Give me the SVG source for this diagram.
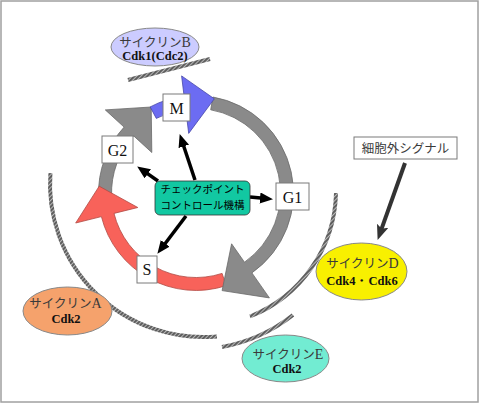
<svg xmlns="http://www.w3.org/2000/svg" width="480" height="404" viewBox="0 0 480 404">
<style>
.jp{font-family:"Noto Sans CJK JP","Noto Sans",sans-serif;}
.lat{font-family:"Liberation Serif","Times New Roman",serif;font-size:14px;}
.box{fill:#ffffff;stroke:#7a7a7a;stroke-width:1;}
.lbl{font-family:"Liberation Serif",serif;font-size:16px;fill:#111;text-anchor:middle;}
.kata{font-family:"Noto Sans CJK JP",sans-serif;font-size:12.5px;fill:#3a3a3a;text-anchor:middle;}
.cdk{font-family:"Liberation Serif","Times New Roman",serif;font-weight:bold;font-size:12.5px;fill:#111;text-anchor:middle;}
.hatch{fill:none;stroke:url(#hp);stroke-width:4;}
.cp{stroke:#000;stroke-width:3.5;fill:none;marker-end:url(#ah);}
</style>
<defs>
<pattern id="hp" patternUnits="userSpaceOnUse" width="3" height="3" patternTransform="rotate(45)">
<rect width="3" height="3" fill="#5e5e5e"/>
<rect width="1" height="3" fill="#b8b8b8"/>
</pattern>
<marker id="ah" markerUnits="userSpaceOnUse" markerWidth="14" markerHeight="12" refX="6" refY="5.5" orient="auto">
<path d="M0,0 L13,5.5 L0,11 Z" fill="#000"/>
</marker>
<marker id="ah2" markerUnits="userSpaceOnUse" markerWidth="16" markerHeight="14" refX="7" refY="6" orient="auto">
<path d="M0,0 L15,6 L0,12 L3,6 Z" fill="#333"/>
</marker>
</defs>
<rect x="1" y="1" width="477" height="401" fill="#ffffff" stroke="#a0a0a0" stroke-width="1.5"/>

<g id="decor">
<path class="hatch" d="M128,80 L210,59"/>
<path class="hatch" d="M50.4,173.1 A153,153 0 0 0 216.9,336.4"/>
<path class="hatch" d="M336,193 A136,136 0 0 1 249.9,316.5"/>
<path class="hatch" d="M222,347 A162,162 0 0 0 293,315"/>
</g>

<g id="cycle">
<path id="arc-g2" d="M98.6,196.4 A97.5,97.5 0 0 1 124.1,127.1 L105.3,109.9 L151.2,107.0 L151.8,152.5 L133.7,135.9 A84.5,84.5 0 0 0 111.6,196.0 Z" fill="#8a8a8a" stroke="#6a6a6a" stroke-width="0.8"/>
<path id="arc-s" d="M226.1,285.7 A97.5,97.5 0 0 1 101.4,216.6 L75.7,223.0 L99.2,186.2 L137.8,207.5 L114.0,213.4 A84.5,84.5 0 0 0 222.1,273.4 Z" fill="#f8625a" stroke="#b04a44" stroke-width="0.8"/>
<path id="arc-g1" d="M212.9,97.0 A97.5,97.5 0 0 1 251.9,272.9 L269.4,297.9 L222.1,290.6 L231.6,243.8 L244.5,262.2 A84.5,84.5 0 0 0 210.7,109.8 Z" fill="#8a8a8a" stroke="#6a6a6a" stroke-width="0.8"/>
<path id="arc-m" d="M150.2,106.9 A97.5,97.5 0 0 1 184.1,96.2 L181.6,75.9 L214.3,98.8 L188.7,133.4 L185.7,109.1 A84.5,84.5 0 0 0 156.3,118.4 Z" fill="#6c6cf2" stroke="#4848a8" stroke-width="0.8"/>
</g>

<g id="connectors">
<path class="cp" d="M195,180 L181.9,140.7"/>
<path class="cp" d="M158,181 L142.9,170.4"/>
<path class="cp" d="M250,197 L266,198.5"/>
<path class="cp" d="M186,216 L161.6,248.2"/>
<path d="M405,163 L380.3,232.4" stroke="#333" stroke-width="4" fill="none" marker-end="url(#ah2)"/>
</g>

<g id="node-M"><rect class="box" x="163" y="94" width="27" height="27"/><text class="lbl" x="176.5" y="113.5">M</text></g>
<g id="node-G2"><rect class="box" x="102" y="136" width="31" height="27"/><text class="lbl" x="117.5" y="155.5">G2</text></g>
<g id="node-G1"><rect class="box" x="276" y="183" width="33" height="27"/><text class="lbl" x="292.5" y="202.5">G1</text></g>
<g id="node-S"><rect class="box" x="137" y="256" width="20" height="27"/><text class="lbl" x="147" y="275">S</text></g>

<g id="node-checkpoint">
<rect x="155" y="181" width="95" height="34" rx="5" fill="#12c8a2" stroke="#333" stroke-width="0.8"/>
<text class="jp" x="202.5" y="192.5" font-size="10.5" fill="#000" text-anchor="middle">チェックポイント</text>
<text class="jp" x="202.5" y="208.5" font-size="10.5" fill="#000" text-anchor="middle">コントロール機構</text>
</g>

<g id="node-signal">
<rect x="354" y="137" width="103" height="22" fill="#fff" stroke="#7a7a7a" stroke-width="1"/>
<text class="kata" x="405.5" y="152.5" font-size="13">細胞外シグナル</text>
</g>

<g id="node-cyclinB">
<ellipse cx="155" cy="47" rx="44" ry="19" fill="#ccccff" stroke="#888" stroke-width="1"/>
<text class="kata" x="155" y="46.5">サイクリン<tspan class="lat">B</tspan></text>
<text class="cdk" x="155" y="60">Cdk1(Cdc2)</text>
</g>

<g id="node-cyclinA">
<ellipse cx="67.5" cy="311" rx="44.5" ry="24" fill="#f5a26c" stroke="#888" stroke-width="1"/>
<text class="kata" x="65.5" y="307.5">サイクリン<tspan class="lat">A</tspan></text>
<text class="cdk" x="66" y="323">Cdk2</text>
</g>

<g id="node-cyclinE">
<ellipse cx="285.5" cy="358.5" rx="43.5" ry="23.5" fill="#72ecd2" stroke="#888" stroke-width="1"/>
<text class="kata" x="288" y="358.5">サイクリン<tspan class="lat">E</tspan></text>
<text class="cdk" x="287" y="373">Cdk2</text>
</g>

<g id="node-cyclinD">
<ellipse cx="361.5" cy="271.5" rx="45.5" ry="28.5" fill="#f8f000" stroke="#888" stroke-width="1"/>
<text class="kata" x="362.5" y="267.5">サイクリン<tspan class="lat">D</tspan></text>
<text class="cdk" x="362" y="285">Cdk4・Cdk6</text>
</g>
</svg>
